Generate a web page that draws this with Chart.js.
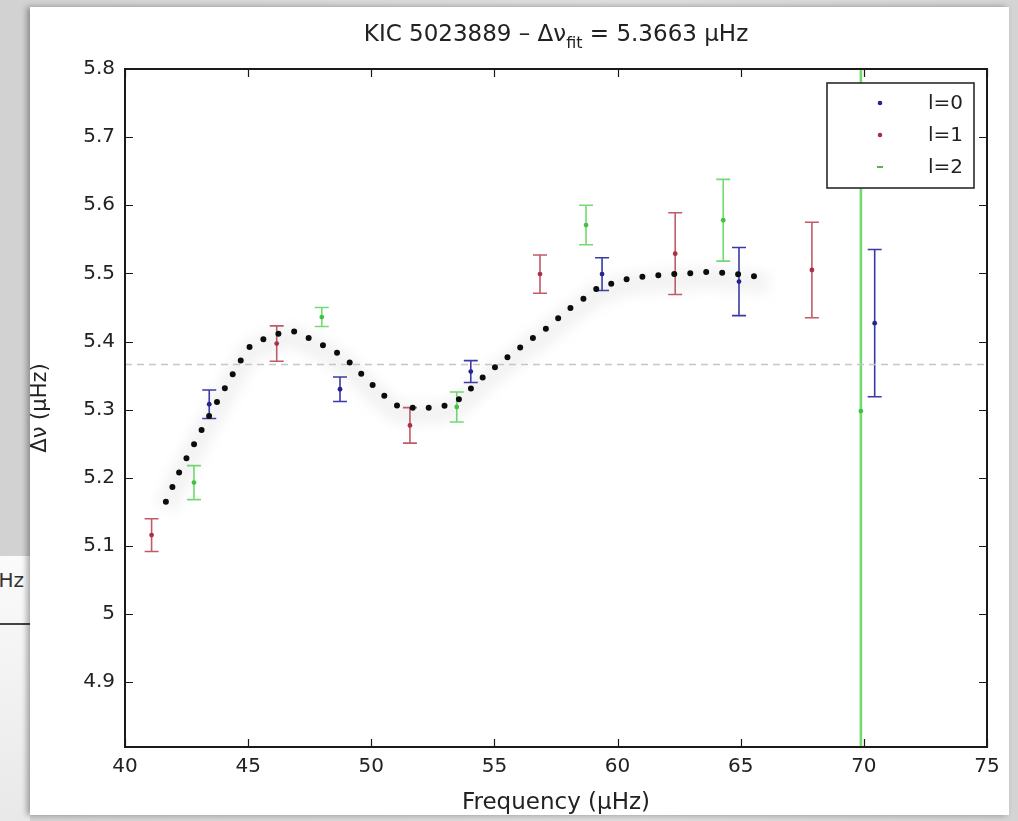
<!DOCTYPE html>
<html>
<head>
<meta charset="utf-8">
<script src="https://cdn.jsdelivr.net/npm/chart.js@4/dist/chart.umd.min.js"></script>
<style>
  html, body { margin: 0; padding: 0; }
  body {
    width: 1018px; height: 821px; overflow: hidden; position: relative;
    background: linear-gradient(90deg, #d2d2d2 0%, #dedede 60%, #d4d4d4 100%);
    font-family: "DejaVu Sans", sans-serif;
  }
  #under {
    position: absolute; left: -70px; top: 556px; width: 100px; height: 300px;
    background: linear-gradient(#fbfbfb, #e6e6e6);
  }
  #under span { position: absolute; right: 6px; top: 12px; font-size: 20px; color: #333; }
  #under i { position: absolute; left: 0; right: 0; top: 67px; border-top: 2px solid #444; }
  #sheet {
    position: absolute; left: 30px; top: 7px; width: 979px; height: 808px;
    background: #fff; box-shadow: -3px 0 6px rgba(0,0,0,0.35);
  }
  #plot { position: absolute; left: 0; top: 0; }
</style>
</head>
<body>
<div id="under"><span>μHz</span><i></i></div>
<div id="sheet"></div>
<canvas id="plot" width="1018" height="821"></canvas>
<script>
// Large frequency separation of KIC 5023889 versus frequency, per mode degree l
const seriesNames = ['l=0', 'l=1', 'l=2'];

const freqL0 = [43.42, 48.73, 54.04, 59.37, 64.93, 70.44];
const dnuL0  = [5.308, 5.330, 5.356, 5.499, 5.488, 5.427];
const errL0  = [0.021, 0.018, 0.016, 0.024, 0.050, 0.108];

const freqL1 = [41.08, 46.16, 51.57, 56.85, 62.34, 67.89];
const dnuL1  = [5.116, 5.397, 5.277, 5.499, 5.529, 5.505];
const errL1  = [0.024, 0.026, 0.026, 0.028, 0.060, 0.070];

const freqL2 = [42.80, 47.99, 53.47, 58.72, 64.29, 69.88];
const dnuL2  = [5.193, 5.436, 5.304, 5.571, 5.578, 5.298];
const errL2  = [0.025, 0.014, 0.022, 0.029, 0.060, 0.650];

// Fitted glitch model
const fitFreq = [41.66, 42.20, 42.80, 43.42, 44.06, 44.71, 45.03, 45.59, 46.20, 46.83,
                 47.41, 48.02, 48.59, 49.13, 49.95, 50.51, 50.99, 51.57, 52.25, 52.88,
                 53.46, 53.98, 54.45, 54.98, 55.46, 55.97, 56.51, 57.02, 57.55, 58.04,
                 58.55, 59.08, 59.66, 60.31, 60.94, 61.58, 62.26, 62.91, 63.50, 64.18,
                 64.83, 65.48, 66.11];
const fitDnu  = [5.165, 5.208, 5.249, 5.291, 5.332, 5.373, 5.391, 5.403, 5.411, 5.415,
                 5.406, 5.395, 5.384, 5.369, 5.340, 5.321, 5.307, 5.303, 5.303, 5.305,
                 5.313, 5.329, 5.345, 5.361, 5.375, 5.389, 5.404, 5.417, 5.433, 5.448,
                 5.461, 5.476, 5.484, 5.491, 5.495, 5.497, 5.499, 5.500, 5.502, 5.501,
                 5.499, 5.496, 5.494];

const dnuFit = 5.3663;

const xRange = [40, 75];
const yRange = [4.805, 5.8];
const xTicks = [40, 45, 50, 55, 60, 65, 70, 75];
const xTickLabels = ['40', '45', '50', '55', '60', '65', '70', '75'];
const yTicks = [4.9, 5.0, 5.1, 5.2, 5.3, 5.4, 5.5, 5.6, 5.7, 5.8];
const yTickLabels = ['4.9', '5', '5.1', '5.2', '5.3', '5.4', '5.5', '5.6', '5.7', '5.8'];

const barColors    = ['#3a3aa6', '#c25a68', '#72dc72'];
const markerColors = ['#24248e', '#a83244', '#44c044'];
const FONT = 'DejaVu Sans';
const TEXT = '#222';

const pts = (xs, ys) => xs.map((x, i) => ({ x, y: ys[i] }));

const groups = [
  { f: freqL0, v: dnuL0, e: errL0 },
  { f: freqL1, v: dnuL1, e: errL1 },
  { f: freqL2, v: dnuL2, e: errL2 }
];

// Vertical error bars with caps, drawn underneath all datasets
const errorBars = {
  id: 'errorBars',
  beforeDatasetsDraw(chart) {
    const { ctx, chartArea: a, scales: { x, y } } = chart;
    ctx.save();
    ctx.beginPath();
    ctx.rect(a.left, a.top, a.right - a.left, a.bottom - a.top);
    ctx.clip();
    groups.forEach((g, k) => {
      ctx.strokeStyle = barColors[k];
      g.f.forEach((f, i) => {
        const px = x.getPixelForValue(f);
        const top = y.getPixelForValue(g.v[i] + g.e[i]);
        const bot = y.getPixelForValue(g.v[i] - g.e[i]);
        ctx.lineWidth = g.e[i] > 0.3 ? 2.6 : 1.6;
        ctx.beginPath();
        ctx.moveTo(px, top); ctx.lineTo(px, bot);
        ctx.moveTo(px - 7, top); ctx.lineTo(px + 7, top);
        ctx.moveTo(px - 7, bot); ctx.lineTo(px + 7, bot);
        ctx.stroke();
      });
    });
    ctx.restore();
  }
};

// Soft shading under the fitted curve
const softBand = {
  id: 'softBand',
  beforeDatasetDraw(chart, args) {
    if (chart.data.datasets[args.index].isBand) {
      chart.ctx.save();
      chart.ctx.filter = 'blur(6px)';
      chart.ctx.translate(0, 6);
    }
  },
  afterDatasetDraw(chart, args) {
    if (chart.data.datasets[args.index].isBand) chart.ctx.restore();
  }
};

// Box frame with inward ticks on all four sides, title, axis titles, legend
const frame = {
  id: 'frame',
  afterDraw(chart) {
    const { ctx, chartArea: a, scales: { x, y } } = chart;
    ctx.save();
    ctx.strokeStyle = '#1a1a1a';
    ctx.lineWidth = 1.2;
    const tl = 8;
    ctx.beginPath();
    xTicks.forEach(v => {
      const px = Math.round(x.getPixelForValue(v)) + 0.5;
      ctx.moveTo(px, a.bottom); ctx.lineTo(px, a.bottom - tl);
      ctx.moveTo(px, a.top); ctx.lineTo(px, a.top + tl);
    });
    yTicks.forEach(v => {
      const py = Math.round(y.getPixelForValue(v)) + 0.5;
      ctx.moveTo(a.left, py); ctx.lineTo(a.left + tl, py);
      ctx.moveTo(a.right, py); ctx.lineTo(a.right - tl, py);
    });
    ctx.stroke();
    ctx.lineWidth = 2;
    ctx.strokeRect(a.left, a.top, a.right - a.left, a.bottom - a.top);

    // Title with subscript
    ctx.fillStyle = TEXT;
    ctx.textBaseline = 'alphabetic';
    const big = `23px "${FONT}"`, small = `16px "${FONT}"`;
    const p1 = 'KIC 5023889 \u2013 \u0394\u03bd', p2 = 'fit', p3 = ' = ' + dnuFit.toFixed(4) + ' \u03bcHz';
    ctx.font = big; const w1 = ctx.measureText(p1).width, w3 = ctx.measureText(p3).width;
    ctx.font = small; const w2 = ctx.measureText(p2).width;
    const cx = (a.left + a.right) / 2;
    let tx = cx - (w1 + w2 + w3) / 2;
    const base = 41;
    ctx.textAlign = 'left';
    ctx.font = big; ctx.fillText(p1, tx, base); tx += w1;
    ctx.font = small; ctx.fillText(p2, tx, base + 7); tx += w2;
    ctx.font = big; ctx.fillText(p3, tx, base);

    // Axis titles
    ctx.font = `23px "${FONT}"`;
    ctx.textAlign = 'center';
    ctx.textBaseline = 'middle';
    ctx.fillText('Frequency (\u03bcHz)', cx, 803);
    ctx.font = `21px "${FONT}"`;
    ctx.save();
    ctx.translate(41, (a.top + a.bottom) / 2);
    ctx.rotate(-Math.PI / 2);
    ctx.fillText('\u0394\u03bd (\u03bcHz)', 0, 0);
    ctx.restore();

    // Legend
    const lx = 827, ly = 83, lw = 147, lh = 105;
    ctx.fillStyle = '#fff';
    ctx.fillRect(lx, ly, lw, lh);
    ctx.strokeStyle = '#2a2a2a';
    ctx.lineWidth = 1.6;
    ctx.strokeRect(lx, ly, lw, lh);
    ctx.font = `20px "${FONT}"`;
    ctx.textAlign = 'left';
    ctx.textBaseline = 'middle';
    seriesNames.forEach((name, k) => {
      const ry = ly + 20 + k * 32;
      ctx.fillStyle = markerColors[k];
      if (k === 2) {
        ctx.fillRect(877, ry - 1, 6, 2);
      } else {
        ctx.beginPath(); ctx.arc(880, ry, 2.3, 0, Math.PI * 2); ctx.fill();
      }
      ctx.fillStyle = TEXT;
      ctx.fillText(name, 928, ry + 1);
    });
    ctx.restore();
  }
};

const pointSet = k => ({
  label: seriesNames[k],
  data: pts(groups[k].f, groups[k].v),
  backgroundColor: markerColors[k],
  borderWidth: 0,
  pointRadius: 2.4,
  pointStyle: 'circle',
  showLine: false
});

new Chart(document.getElementById('plot'), {
  type: 'scatter',
  data: {
    datasets: [
      pointSet(0), pointSet(1), pointSet(2),
      {
        label: 'fit',
        data: pts(fitFreq, fitDnu),
        showLine: true,
        borderColor: '#0c0c0c',
        borderWidth: 6,
        borderDash: [0, 16],
        borderCapStyle: 'round',
        cubicInterpolationMode: 'monotone',
        pointRadius: 0,
        fill: false
      },
      {
        label: 'mean',
        data: pts(xRange, [dnuFit, dnuFit]),
        showLine: true,
        borderColor: '#c6c6c6',
        borderWidth: 1.5,
        borderDash: [7, 5],
        pointRadius: 0,
        fill: false
      },
      {
        label: 'band',
        isBand: true,
        data: pts(fitFreq, fitDnu),
        showLine: true,
        borderColor: 'rgba(120,120,120,0.09)',
        borderWidth: 22,
        cubicInterpolationMode: 'monotone',
        pointRadius: 0,
        fill: false
      }
    ]
  },
  options: {
    responsive: false,
    animation: false,
    events: [],
    layout: { padding: { left: 0, top: 69, right: 31, bottom: 0 } },
    plugins: { legend: { display: false }, tooltip: { enabled: false }, title: { display: false } },
    scales: {
      x: {
        type: 'linear', min: xRange[0], max: xRange[1],
        afterFit: s => { s.height = 74; },
        afterBuildTicks: s => { s.ticks = xTicks.map(value => ({ value })); },
        grid: { display: false, drawTicks: false },
        border: { display: false },
        ticks: {
          padding: 8, color: TEXT, font: { family: FONT, size: 20 },
          maxRotation: 0, autoSkip: false,
          callback: (v, i) => xTickLabels[i]
        }
      },
      y: {
        type: 'linear', min: yRange[0], max: yRange[1],
        afterFit: s => { s.width = 125; },
        afterBuildTicks: s => { s.ticks = yTicks.map(value => ({ value })); },
        grid: { display: false, drawTicks: false },
        border: { display: false },
        ticks: {
          padding: 10, color: TEXT, font: { family: FONT, size: 20 },
          autoSkip: false,
          callback: (v, i) => yTickLabels[i]
        }
      }
    }
  },
  plugins: [errorBars, softBand, frame]
});
</script>
</body>
</html>
